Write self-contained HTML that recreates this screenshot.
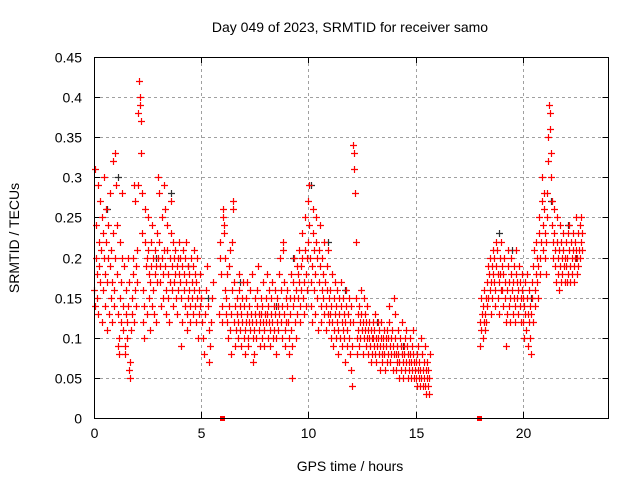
<!DOCTYPE html>
<html><head><meta charset="utf-8"><style>
html,body{margin:0;padding:0;background:#fff}
svg{display:block;font-family:"Liberation Sans",sans-serif}
</style></head><body>
<svg id="chart" width="640" height="480" viewBox="0 0 640 480">
<rect width="640" height="480" fill="#fff"/>
<text x="350" y="32" text-anchor="middle" font-size="14">Day 049 of 2023, SRMTID for receiver samo</text>
<text x="350" y="471" text-anchor="middle" font-size="14">GPS time / hours</text>
<text transform="translate(19,238) rotate(-90)" text-anchor="middle" font-size="14">SRMTID / TECUs</text>
<g id="grid"></g>
<g id="axes"></g>
<g id="marks"></g>
<rect x="94.5" y="57.5" width="514" height="361" fill="none" stroke="#000" stroke-width="1"/>
</svg>
<script>
const xTicks=[0,5,10,15,20];
const yTicks=[0,0.05,0.1,0.15,0.2,0.25,0.3,0.35,0.4,0.45];
const yTickLabels=["0","0.05","0.1","0.15","0.2","0.25","0.3","0.35","0.4","0.45"];
const segStart=[0,1,2,3,4,5,5.85,6,7,8,9,10,11,12,13,14,15,18,19,20,21,22];
const segEnd=[1,2,3,4,5,5.6,6,7,8,9,10,11,12,13,14,15,15.7,19,20,21,22,22.8];
const segValues=[
[.16,.14,.31,.2,.24,.18,.15,.13,.29,.22,.19,.17,.27,.21,.12,.25,.23,.16,.3,.2,.18,.14,.22,.26,.17,.11,.2,.24,.13,.19,.28,.15,.21,.12,.17,.32,.23,.16,.14,.2],
[.33,.29,.24,.18,.13,.09,.08,.1,.15,.22,.12,.17,.28,.2,.11,.14,.19,.09,.08,.13,.16,.12,.1,.14,.2,.17,.06,.05,.07,.11,.15,.13,.2,.18,.12,.29,.27,.16,.14,.19],
[.21,.17,.29,.38,.42,.4,.39,.37,.33,.28,.23,.16,.12,.1,.14,.26,.22,.19,.2,.13,.25,.21,.18,.15,.11,.17,.19,.22,.14,.24,.2,.16,.13,.21,.18,.12,.19,.23,.17,.2],
[.3,.28,.22,.19,.17,.14,.2,.25,.18,.15,.21,.29,.26,.19,.16,.13,.24,.21,.18,.15,.12,.2,.17,.23,.27,.19,.16,.14,.22,.2,.17,.21,.18,.15,.19,.13,.16,.2,.18,.22],
[.2,.17,.15,.09,.12,.19,.21,.16,.18,.14,.2,.22,.17,.13,.11,.15,.19,.16,.18,.12,.14,.2,.17,.15,.13,.19,.16,.21,.18,.14,.12,.17,.15,.2,.1,.13,.16,.18,.14,.15],
[.15,.12,.1,.08,.13,.16,.19,.14,.11,.07,.09,.12,.15,.17],
[.13,.2,.22,.18,.14,.12],
[.26,.25,.24,.23,.2,.16,.13,.15,.18,.12,.1,.14,.19,.21,.11,.08,.13,.16,.22,.27,.26,.17,.12,.09,.14,.11,.15,.13,.1,.12,.16,.18,.14,.11,.09,.13,.15,.12,.17,.1],
[.14,.11,.08,.12,.15,.17,.13,.1,.09,.12,.14,.16,.11,.13,.18,.12,.1,.07,.08,.11,.13,.15,.12,.1,.14,.16,.19,.13,.11,.09,.12,.15,.13,.1,.14,.12,.17,.11,.09,.13],
[.12,.15,.18,.13,.1,.14,.16,.12,.09,.11,.13,.15,.17,.12,.1,.14,.11,.13,.16,.1,.08,.12,.15,.14,.11,.13,.18,.2,.16,.12,.1,.14,.22,.21,.17,.13,.11,.09,.15,.12],
[.14,.16,.12,.1,.08,.13,.15,.18,.11,.05,.09,.14,.17,.2,.15,.12,.1,.16,.19,.13,.15,.18,.21,.17,.14,.12,.16,.19,.23,.2,.15,.13,.17,.21,.25,.18,.14,.16,.2,.22],
[.27,.29,.24,.2,.17,.14,.12,.19,.23,.26,.21,.16,.13,.18,.22,.25,.2,.15,.11,.17,.21,.24,.19,.14,.12,.16,.2,.18,.15,.13,.22,.17,.14,.11,.19,.16,.13,.21,.15,.12],
[.16,.13,.1,.14,.18,.12,.09,.15,.11,.13,.17,.1,.14,.12,.16,.08,.11,.15,.13,.1,.14,.17,.12,.09,.11,.15,.13,.1,.07,.12,.16,.14,.11,.09,.13,.15,.1,.08,.12,.14],
[.06,.04,.09,.12,.34,.33,.31,.28,.22,.15,.1,.08,.13,.11,.09,.14,.12,.1,.16,.13,.11,.08,.12,.15,.1,.13,.11,.09,.12,.1,.14,.11,.08,.1,.12,.09,.11,.07,.1,.08],
[.1,.12,.09,.11,.08,.13,.1,.07,.09,.12,.1,.08,.11,.06,.09,.1,.12,.08,.07,.1,.09,.11,.08,.06,.1,.09,.07,.11,.08,.1,.14,.12,.09,.07,.1,.08,.11,.09,.06,.08],
[.15,.13,.1,.08,.06,.09,.07,.11,.08,.05,.07,.1,.09,.06,.08,.12,.07,.05,.09,.08,.1,.06,.07,.11,.09,.05,.08,.07,.06,.1,.08,.05,.07,.09,.06,.08,.11,.07,.05,.06],
[.07,.05,.04,.08,.06,.09,.05,.07,.04,.06,.1,.05,.08,.04,.06,.07,.05,.09,.04,.06,.03,.05,.07,.04,.06,.05,.03,.08],
[.09,.12,.15,.11,.13,.1,.14,.12,.16,.11,.13,.15,.12,.14,.17,.19,.15,.18,.2,.16,.13,.17,.19,.15,.18,.21,.2,.17,.14,.16,.19,.22,.21,.18,.15,.13,.17,.2,.18,.16],
[.22,.19,.16,.14,.18,.2,.17,.15,.12,.09,.13,.16,.19,.21,.17,.14,.12,.15,.18,.2,.16,.13,.17,.19,.15,.12,.14,.18,.21,.17,.15,.13,.16,.19,.17,.14,.12,.15,.18,.16],
[.15,.12,.1,.14,.17,.13,.11,.15,.18,.13,.09,.12,.16,.14,.1,.08,.13,.17,.15,.12,.19,.21,.16,.14,.18,.22,.2,.17,.15,.19,.23,.25,.2,.18,.22,.27,.3,.24,.21,.28],
[.26,.23,.2,.18,.22,.25,.28,.32,.35,.39,.38,.36,.33,.3,.27,.24,.22,.2,.23,.26,.21,.19,.17,.22,.25,.2,.18,.16,.21,.24,.19,.17,.22,.2,.18,.23,.21,.19,.17,.2],
[.22,.19,.17,.2,.23,.18,.21,.24,.19,.17,.22,.2,.18,.21,.23,.19,.17,.2,.22,.25,.21,.18,.2,.23,.19,.21,.24,.2,.22,.25,.21,.23]
];
const zeroTimes=[5.95,17.95];
const zeroValues=[0,0];
const blackTimes=[0.6,1.1,2.9,3.6,4.4,5.3,6.8,8.5,9.3,10.1,10.9,11.7,13.2,14.4,18.9,19.5,20.4,21.3,22.1,22.5];
const blackValues=[.26,.3,.2,.28,.19,.15,.17,.14,.2,.29,.22,.16,.12,.09,.23,.21,.15,.27,.24,.2];

const L=94,R=608.5,T=57,B=418,XMAX=24,YMAX=0.45;
const xs=t=>L+t/XMAX*(R-L);
const ys=v=>B-v/YMAX*(B-T);
const NS="http://www.w3.org/2000/svg";
const grid=document.getElementById('grid'),axes=document.getElementById('axes'),marks=document.getElementById('marks');
function mk(tag,attrs,parent){const e=document.createElementNS(NS,tag);for(const k in attrs)e.setAttribute(k,attrs[k]);parent.appendChild(e);return e;}
const snap=v=>Math.round(v)+0.5;
xTicks.forEach((t,i)=>{
  const x=snap(xs(t));
  if(t>0){const g=mk('line',{x1:x,x2:x,y1:T,y2:B,stroke:'#a0a0a0','stroke-dasharray':'3,3'},grid);
  
  }
  const tk=mk('line',{x1:x,x2:x,y1:B,y2:B-6,stroke:'#000'},axes);
  
  
  const tk2=mk('line',{x1:x,x2:x,y1:T,y2:T+6,stroke:'#000'},axes);
  
  
  const lb=mk('text',{x:x,y:B+20,'text-anchor':'middle','font-size':14},axes);lb.textContent=String(t);
  
  
});
yTicks.forEach((v,i)=>{
  const y=snap(ys(v));
  if(v>0&&v<YMAX){const g=mk('line',{x1:L,x2:R,y1:y,y2:y,stroke:'#a0a0a0','stroke-dasharray':'3,3'},grid);
  
  }
  const tk=mk('line',{x1:L,x2:L+6,y1:y,y2:y,stroke:'#000'},axes);
  
  
  const tk2=mk('line',{x1:R,x2:R-6,y1:y,y2:y,stroke:'#000'},axes);
  
  
  const lb=mk('text',{x:L-12,y:y+5,'text-anchor':'end','font-size':14},axes);lb.textContent=yTickLabels[i];
  
  
});
function plus(t,v,color,name){
  const x=snap(xs(t)),y=snap(ys(v));
  const p=mk('path',{d:`M${x-3.5},${y}H${x+3.5}M${x},${y-3.5}V${y+3.5}`,stroke:color,'stroke-width':1.2,fill:'none'},marks);
  
  
}
blackTimes.forEach((t,i)=>plus(t,blackValues[i],'#303030','black-point'));
segValues.forEach((vals,s)=>{
  const n=vals.length;
  vals.forEach((v,i)=>plus(segStart[s]+(segEnd[s]-segStart[s])*i/n,v,'#ff0000','red-point'));
});
zeroTimes.forEach((t,i)=>{
  const r=mk('rect',{x:Math.round(xs(t))-2,y:Math.round(ys(zeroValues[i]))-2,width:5,height:5,fill:'#ff0000'},marks);
  
  
});
</script>
</body></html>
